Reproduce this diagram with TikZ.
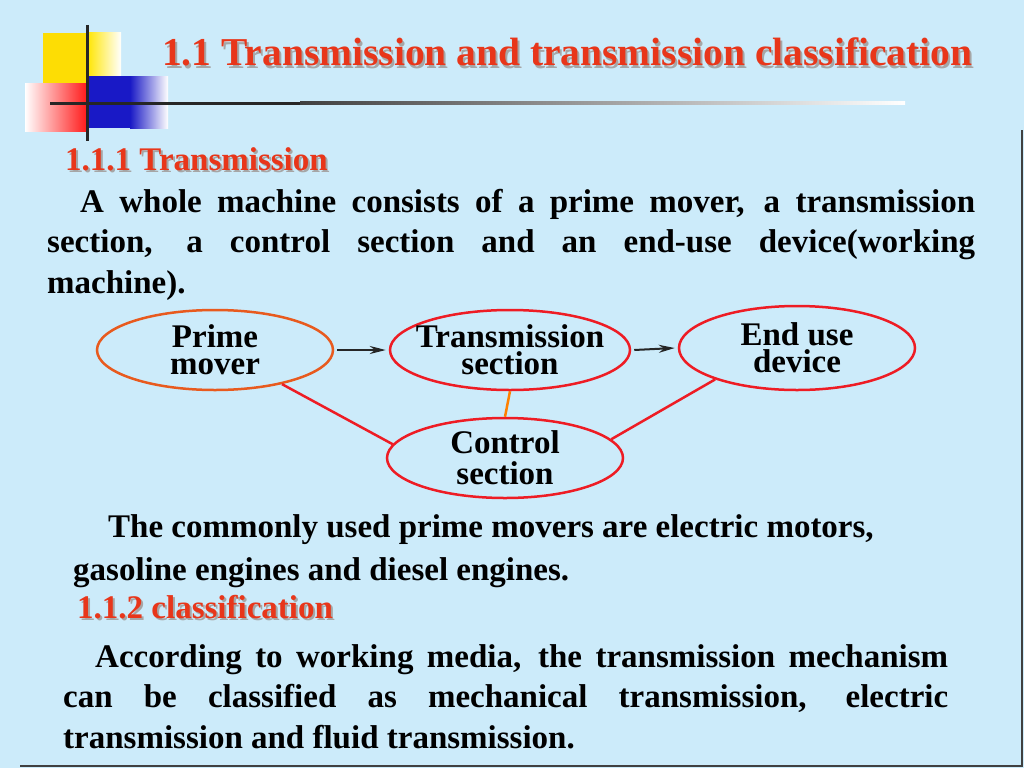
\documentclass[tikz,border=0pt]{standalone}
\usepackage{fontspec}
\setmainfont{Liberation Serif}
\usetikzlibrary{shapes.geometric,arrows.meta}
\definecolor{bg}{HTML}{CCEBFA}
\definecolor{tred}{HTML}{E8361A}
\definecolor{ered}{HTML}{EE1C24}
\definecolor{eorg}{HTML}{E85A1E}
\newcommand\jline[2]{\hbox to #1{\spaceskip=0pt plus 1fill\relax #2}}
\tikzset{
 body/.style={anchor=base west,inner sep=0pt,font=\bfseries\fontsize{33}{36}\selectfont},
 head/.style={anchor=base west,inner sep=0pt,text=tred,font=\bfseries\fontsize{33}{36}\selectfont},
 shad/.style={anchor=base west,inner sep=0pt,text=gray!70,font=\bfseries\fontsize{33}{36}\selectfont},
 ell/.style={ellipse,draw=ered,line width=2.5pt,minimum width=236pt,minimum height=80pt,align=center,inner xsep=-40pt,inner ysep=-20pt,font=\bfseries\fontsize{33}{27}\selectfont},
 con/.style={ered,line width=2.5pt},
 arr/.style={-{Stealth[length=16pt,width=8pt]},line width=2pt,black!85}
}
\begin{document}
\begin{tikzpicture}[x=1pt,y=-1pt]
\useasboundingbox (0,0) rectangle (1024,768);
\fill[bg] (0,0) rectangle (1024,768);
\draw[black!75,line width=2pt] (1022,130) -- (1022,766) -- (20,766);
% logo
\fill[yellow!80!orange] (43,33) rectangle (88,83);
\shade[left color=yellow!80!orange,right color=white] (87,33) rectangle (121,83);
\shade[shading=axis,shading angle=45,left color=white,right color=red!90] (25,83) rectangle (87,131);
\fill[blue!75!black!90] (87,76) rectangle (130,128);
\shade[left color=blue!75!black!90,right color=white] (130,76) rectangle (168,128);
\draw[black!85,line width=3pt] (87,25) -- (87,141);
\draw[black!85,line width=3pt] (50,103) -- (300,103);
\shade[left color=black!75,right color=white] (300,101.5) rectangle (905,104.5);
% title
\node[anchor=base west,inner sep=0pt,text=gray!70,font=\bfseries\fontsize{39.5}{42}\selectfont] at (164,68) {1.1 Transmission and transmission classification};
\node[anchor=base west,inner sep=0pt,text=tred,font=\bfseries\fontsize{39.5}{42}\selectfont] (title) at (162,66) {1.1 Transmission and transmission classification};
% section 1
\node[shad] at (67,172) {1.1.1 Transmission};
\node[head] (h1) at (65,170) {1.1.1 Transmission};
\node[body] (p1) at (80,212) {\jline{895pt}{A whole machine consists of a prime mover, a transmission}};
\node[body] (p2) at (47,252) {\jline{928pt}{section, a control section and an end-use device(working}};
\node[body] (p3) at (47,293) {machine).};
% diagram
\node[ell,draw=eorg] (pm) at (215,350) {Prime\\mover};
\node[ell,minimum width=240pt] (ts) at (510,350) {Transmission\\section};
\node[ell,minimum height=84pt] (eu) at (797,348) {End use\\device};
\node[ell,font=\bfseries\fontsize{33}{31}\selectfont] (cs) at (505,458) {Control\\section};
\draw[arr] (pm.east) ++(3pt,0) -- ([xshift=-3pt]ts.west);
\draw[arr] (ts.east) ++(3pt,0) -- ([xshift=-3pt]eu.west);
\draw[con] (pm.-27) -- (cs.173);
\draw[con] (eu.201) -- (cs.10);
\draw[orange,line width=2.5pt] (ts.south) -- (cs.north);
% text 2
\node[body] (q1) at (108,537) {The commonly used prime movers are electric motors,};
\node[body] (q2) at (73,580) {gasoline engines and diesel engines.};
\node[shad] at (79,620) {1.1.2 classification};
\node[head] (h2) at (77,618) {1.1.2 classification};
\node[body] (r1) at (95,667) {\jline{853pt}{According to working media, the transmission mechanism}};
\node[body] (r2) at (63,707) {\jline{885pt}{can be classified as mechanical transmission, electric}};
\node[body] (r3) at (63,748) {transmission and fluid transmission.};
\end{tikzpicture}
\end{document}
